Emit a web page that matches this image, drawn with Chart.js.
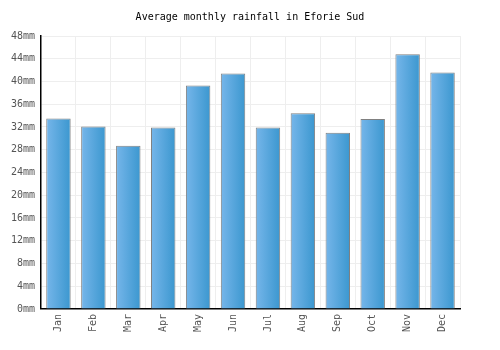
<!DOCTYPE html>
<html><head><meta charset="utf-8">
<script src="https://cdn.jsdelivr.net/npm/chart.js@4"></script>
<style>html,body{margin:0;padding:0;background:#fff}#wrap{width:500px;height:350px}</style>
</head><body><div id="wrap"><canvas id="c" width="500" height="350"></canvas></div>
<script>
const categories = ["Jan","Feb","Mar","Apr","May","Jun","Jul","Aug","Sep","Oct","Nov","Dec"];
const rainfall = [33.5, 32.1, 28.7, 31.9, 39.3, 41.4, 31.9, 34.4, 31.0, 33.4, 44.8, 41.6];
const yTicks = [0,4,8,12,16,20,24,28,32,36,40,44,48];
const titleText = "Average monthly rainfall in Eforie Sud";
const FONT = "'DejaVu Sans Mono', monospace";

function barGradient(ctx) {
  const chart = ctx.chart;
  const xs = chart.scales && chart.scales.x;
  if (!xs || !chart.chartArea) return '#55a6de';
  const cx = xs.getPixelForValue(ctx.dataIndex);
  const w = xs.width / categories.length * 0.7;
  const g = chart.ctx.createLinearGradient(cx - w/2, 0, cx + w/2, 0);
  g.addColorStop(0, '#76b6ea');
  g.addColorStop(1, '#3b97cf');
  return g;
}

const centerTitle = {
  id: 'centerTitle',
  afterLayout(chart) {
    const t = chart.titleBlock;
    if (t) { t.left = 0; t.right = chart.width; t.width = chart.width; }
  }
};

new Chart(document.getElementById('c'), {
  type: 'bar',
  data: { labels: categories, datasets: [{ data: rainfall, backgroundColor: barGradient, borderColor: '#808080', borderWidth: 1, barPercentage: 0.7, categoryPercentage: 1.0 }] },
  options: {
    responsive: false, animation: false,
    layout: { padding: { left: 0, right: 40, top: 0, bottom: 13 } },
    plugins: {
      legend: { display: false }, tooltip: { enabled: false },
      title: { display: true, text: titleText, color: '#000', font: { family: FONT, size: 10, weight: 'normal' }, padding: { top: 11, bottom: 13 } }
    },
    scales: {
      x: {
        grid: { color: '#eeeeee', lineWidth: 1, drawTicks: false, offset: true },
        border: { color: '#000', width: 1.5 },
        ticks: { color: '#555', font: { family: FONT, size: 10 }, minRotation: 90, maxRotation: 90, padding: 5 }
      },
      y: {
        min: 0, max: 48,
        afterBuildTicks: (s) => { s.ticks = yTicks.map(v => ({ value: v })); },
        afterFit: (s) => { s.width = 41; },
        grid: { color: '#eeeeee', lineWidth: 1, drawTicks: false },
        border: { color: '#000', width: 1.5 },
        ticks: { color: '#555', font: { family: FONT, size: 10 }, padding: 6, callback: (v) => v + 'mm' }
      }
    }
  },
  plugins: [centerTitle]
});
</script></body></html>
